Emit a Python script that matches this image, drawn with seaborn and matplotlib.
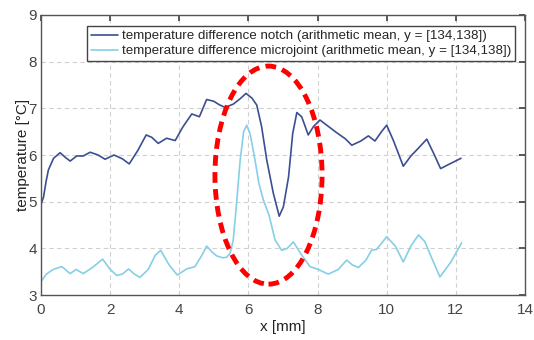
import numpy as np
import pandas as pd
import matplotlib
matplotlib.use("Agg")
import matplotlib.pyplot as plt
from matplotlib.patches import Ellipse
import seaborn as sns

# Notch temperature difference along x
notch_x = [0, 0.07, 0.14, 0.21, 0.36, 0.55, 0.7, 0.84, 1.03, 1.22, 1.42, 1.65, 1.85, 2.11,
           2.35, 2.55, 2.8, 3.04, 3.2, 3.39, 3.63, 3.88, 4.1, 4.36, 4.58, 4.79, 5.0,
           5.15, 5.32, 5.56, 5.75, 5.93, 6.1, 6.24, 6.38, 6.53, 6.72, 6.89, 7.01, 7.16,
           7.28, 7.40, 7.54, 7.73, 7.88, 8.07, 8.3, 8.55, 8.8, 8.99, 9.25, 9.47, 9.66,
           9.85, 10.0, 10.2, 10.48, 10.7, 10.87, 11.16, 11.35, 11.56, 11.85, 12.15]
notch_y = [4.95, 5.1, 5.42, 5.68, 5.93, 6.05, 5.95, 5.87, 5.98, 5.98, 6.06, 6.0, 5.91, 6.0,
           5.92, 5.81, 6.1, 6.43, 6.38, 6.25, 6.36, 6.31, 6.6, 6.88, 6.82, 7.19, 7.15,
           7.08, 7.02, 7.09, 7.2, 7.32, 7.22, 7.07, 6.61, 5.89, 5.18, 4.69, 4.89, 5.53,
           6.46, 6.91, 6.82, 6.43, 6.61, 6.75, 6.62, 6.48, 6.35, 6.21, 6.3, 6.41, 6.30,
           6.5, 6.64, 6.3, 5.76, 5.98, 6.11, 6.34, 6.05, 5.71, 5.82, 5.93]

# Microjoint temperature difference along x
micro_x = [0, 0.15, 0.35, 0.6, 0.84, 1.01, 1.22, 1.5, 1.78, 2.0, 2.19, 2.35, 2.53,
           2.7, 2.86, 3.1, 3.3, 3.46, 3.7, 3.94, 4.21, 4.45, 4.65, 4.79, 4.95, 5.08,
           5.25, 5.37, 5.47, 5.56, 5.66, 5.76, 5.86, 5.95, 6.05, 6.19, 6.3, 6.43, 6.6,
           6.77, 6.96, 7.12, 7.30, 7.5, 7.78, 8.02, 8.31, 8.6, 8.84, 9.0, 9.18, 9.4,
           9.56, 9.71, 10.0, 10.25, 10.48, 10.7, 10.92, 11.1, 11.3, 11.54, 11.85, 12.17]
micro_y = [3.29, 3.45, 3.55, 3.61, 3.46, 3.55, 3.46, 3.6, 3.77, 3.55, 3.42, 3.45, 3.56,
           3.45, 3.38, 3.55, 3.85, 3.96, 3.65, 3.43, 3.56, 3.61, 3.85, 4.05, 3.92, 3.84,
           3.8, 3.81, 3.9, 4.18, 5.0, 5.89, 6.5, 6.64, 6.45, 5.89, 5.4, 5.04, 4.7,
           4.18, 3.96, 4.0, 4.14, 3.9, 3.61, 3.55, 3.45, 3.55, 3.75, 3.65, 3.59, 3.75,
           3.96, 3.98, 4.25, 4.05, 3.71, 4.05, 4.29, 4.15, 3.8, 3.39, 3.7, 4.12]

series_names = ["temperature difference notch (arithmetic mean, y = [134,138])",
                "temperature difference microjoint (arithmetic mean, y = [134,138])"]
series_colors = ["#3b4f91", "#86cfe6"]

x_ticks = [0, 2, 4, 6, 8, 10, 12, 14]
y_ticks = [3, 4, 5, 6, 7, 8, 9]

df = pd.concat([
    pd.DataFrame({"x": notch_x, "t": notch_y, "series": series_names[0]}),
    pd.DataFrame({"x": micro_x, "t": micro_y, "series": series_names[1]}),
], ignore_index=True)

sns.set_theme(style="white")
plt.rcParams["font.family"] = ["Liberation Sans", "DejaVu Sans"]

fig = plt.figure(figsize=(5.34, 3.40), dpi=100)
ax = fig.add_axes([0.077, 0.132, 0.906, 0.824])

sns.lineplot(data=df, x="x", y="t", hue="series", palette=series_colors,
             hue_order=series_names, sort=False, estimator=None, linewidth=1.2, ax=ax)

ax.set_xlim(0, 14)
ax.set_ylim(3, 9)
ax.set_xticks(x_ticks)
ax.set_yticks(y_ticks)
ax.grid(True, color="#d0d0d0", linestyle=(0, (4, 3)), linewidth=0.8)
ax.tick_params(direction="in", length=4, top=True, right=True, labelsize=11,
               colors="#444444")
ax.tick_params(axis="x", pad=6)
ax.tick_params(axis="y", pad=3)
for s in ax.spines.values():
    s.set_color("#555555")
    s.set_linewidth(1.0)

ax.set_xlabel("x [mm]", fontsize=11, color="#222222", labelpad=2)
ax.set_ylabel("temperature [°C]", fontsize=11, color="#222222", labelpad=-1)

# highlight region around the notch
ax.add_patch(Ellipse((6.58, 5.57), 3.1, 4.67, fill=False, edgecolor="#ff0000",
                     linewidth=3.5, linestyle=(0, (2.2, 1.3)), zorder=5))

leg = ax.legend(loc="upper right", bbox_to_anchor=(0.985, 0.97), fontsize=9.6,
                frameon=True, fancybox=False, edgecolor="#444444", framealpha=1,
                borderpad=0.3, handlelength=2.0, handletextpad=0.3, labelspacing=0.2,
                borderaxespad=0.2)
leg.get_frame().set_linewidth(1.0)

fig.savefig("out.png", dpi=100)
